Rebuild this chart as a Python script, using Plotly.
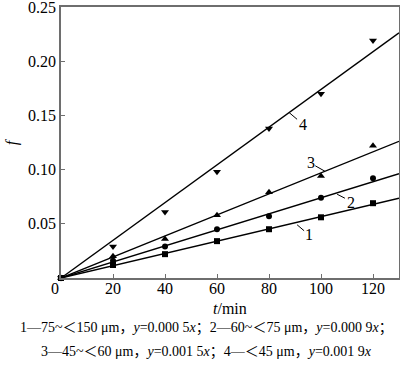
import plotly.graph_objects as go

# data
t = [0, 20, 40, 60, 80, 100, 120]
f1 = [0.0, 0.012, 0.022, 0.034, 0.045, 0.056, 0.069]
f2 = [0.0, 0.016, 0.029, 0.045, 0.057, 0.074, 0.092]
f3 = [0.0, 0.020, 0.036, 0.058, 0.079, 0.094, 0.122]
f4 = [0.0, 0.029, 0.061, 0.098, 0.138, 0.170, 0.219]
slopes = [0.000566, 0.00074, 0.00097, 0.00174]
series = [f1, f2, f3, f4]
symbols = ["square", "circle", "triangle-up", "triangle-down"]
labels = ["1", "2", "3", "4"]
x_ticks = [0, 20, 40, 60, 80, 100, 120]
y_ticks = [0.05, 0.10, 0.15, 0.20, 0.25]
x_max = 130

FONT = "Liberation Serif, Times New Roman, Noto Sans CJK SC, serif"

fig = go.Figure()
for ys, s, sym in zip(series, slopes, symbols):
    fig.add_trace(go.Scatter(x=[0, x_max], y=[0, s * x_max], mode="lines",
                             line=dict(color="black", width=1.4),
                             showlegend=False, hoverinfo="skip"))
    fig.add_trace(go.Scatter(x=t, y=ys, mode="markers", cliponaxis=False,
                             marker=dict(symbol=sym, size=6 if sym in ("square", "circle") else 7,
                                         color="black"),
                             showlegend=False))

# line labels with leader lines (data coords)
leaders = [
    ((90.8, 0.0491), (93.5, 0.0436), (95.5, 0.0405)),
    ((106.2, 0.0773), (109.2, 0.0736), (111.5, 0.0695)),
    ((101.5, 0.0985), (97.8, 0.1035), (96.3, 0.1065)),
    ((87.7, 0.1527), (90.8, 0.1464), (93.2, 0.1415)),
]
for lab, (p0, p1, pt) in zip(labels, leaders):
    fig.add_shape(type="line", x0=p0[0], y0=p0[1], x1=p1[0], y1=p1[1],
                  line=dict(color="black", width=1))
    fig.add_annotation(x=pt[0], y=pt[1], text=lab, showarrow=False,
                       font=dict(family=FONT, size=16, color="black"))

axis_common = dict(showgrid=False, zeroline=False, showline=True, linecolor="#6e6e6e",
                   linewidth=1.5, mirror=True, ticks="inside", ticklen=4,
                   tickcolor="#6e6e6e", tickwidth=1.2, automargin=False,
                   ticklabeloverflow="allow",
                   tickfont=dict(family=FONT, size=16, color="black"))

fig.update_xaxes(range=[0, x_max], tickvals=x_ticks, ticklabelstandoff=-5,
                 ticktext=[""] + [str(v) for v in x_ticks[1:]], **axis_common)
fig.update_yaxes(range=[0, 0.25], tickvals=y_ticks,
                 ticktext=["%.2f" % v for v in y_ticks], **axis_common)

# x "0" label slightly left of the axis origin
fig.add_annotation(xref="paper", yref="paper", x=-0.018, y=0, yshift=-10,
                   xanchor="center", yanchor="middle",
                   text="0", showarrow=False,
                   font=dict(family=FONT, size=16, color="black"))

fig.add_annotation(xref="paper", yref="paper", x=-0.145, y=0.505, text="<i>f</i>",
                   xanchor="center", yanchor="middle",
                   showarrow=False, textangle=-90,
                   font=dict(family=FONT, size=16, color="black"))
fig.add_annotation(xref="paper", yref="paper", x=0.5, y=0, yshift=-30,
                   xanchor="center", yanchor="middle",
                   text="<i>t</i>/min", showarrow=False,
                   font=dict(family=FONT, size=16, color="black"))

cap1 = "1—75~＜150 μm，<i>y</i>=0.000 5<i>x</i>；2—60~＜75 μm，<i>y</i>=0.000 9<i>x</i>；"
cap2 = "3—45~＜60 μm，<i>y</i>=0.001 5<i>x</i>；4—＜45 μm，<i>y</i>=0.001 9<i>x</i>"
fig.add_annotation(xref="paper", yref="paper", x=0.43, y=0, yshift=-50,
                   xanchor="center", yanchor="middle", text=cap1, showarrow=False,
                   font=dict(family=FONT, size=14, color="black"))
fig.add_annotation(xref="paper", yref="paper", x=0.43, y=0, yshift=-74,
                   xanchor="center", yanchor="middle", text=cap2, showarrow=False,
                   font=dict(family=FONT, size=14, color="black"))

fig.update_layout(width=400, height=366,
                  margin=dict(l=61, r=1, t=7, b=88, autoexpand=False),
                  plot_bgcolor="white", paper_bgcolor="white")

fig.write_html("out.html", config={"displayModeBar": False},
               post_script="document.body.style.margin='0';document.body.style.padding='0';")
